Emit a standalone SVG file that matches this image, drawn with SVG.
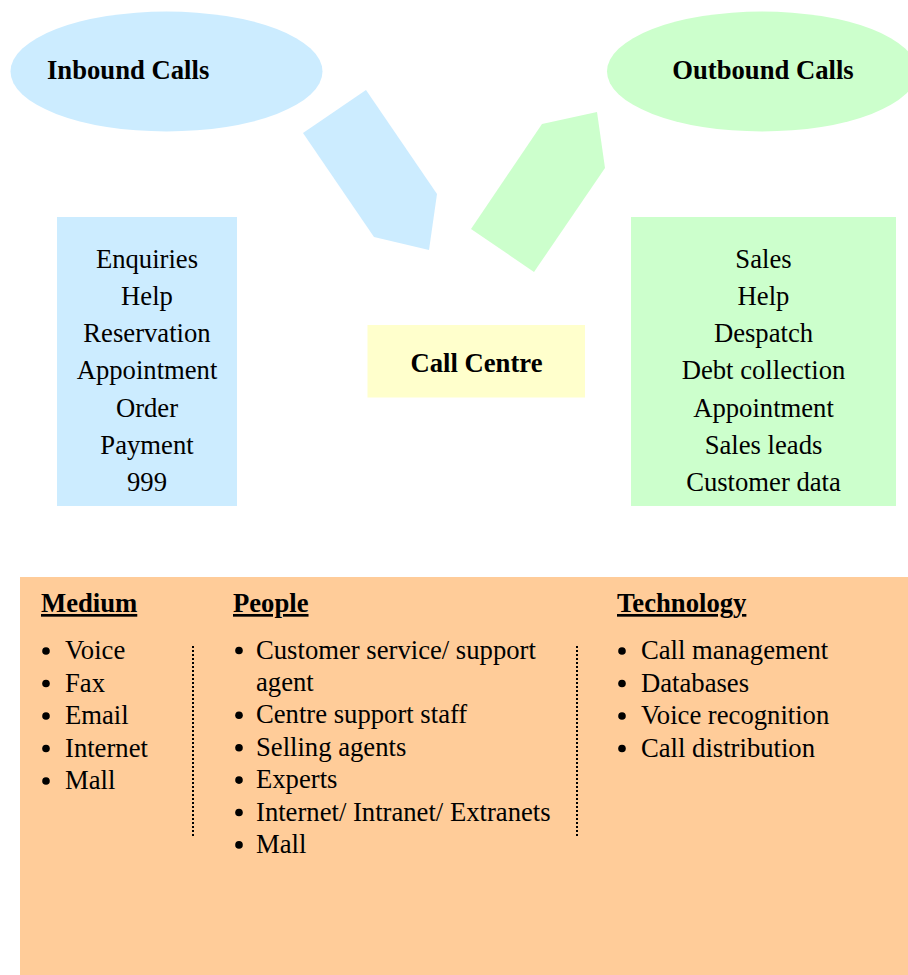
<svg xmlns="http://www.w3.org/2000/svg" width="908" height="975" viewBox="0 0 908 975">
<style>
text{font-family:"Liberation Serif","Times New Roman",serif;font-size:26.67px;fill:#000}
.b{font-weight:bold}
.u{text-decoration:underline}
.c{text-anchor:middle}
.dot{stroke:#000;stroke-width:2;stroke-dasharray:2 2;fill:none}
</style>
<rect width="908" height="975" fill="#fff"/>
<g id="inbound">
<ellipse cx="166.5" cy="71.5" rx="156" ry="60" fill="#CCECFF"/>
<text class="b" x="47" y="79">Inbound Calls</text>
</g>
<g id="outbound">
<ellipse cx="762" cy="71.5" rx="155" ry="60" fill="#CCFFCC"/>
<text class="b c" x="763" y="79">Outbound Calls</text>
</g>
<g id="connectors">
<polygon points="303,133 366,90 437,194 429,250 374,237" fill="#CCECFF"/>
<polygon points="471,229 542,124 597,112 605,168 534,272" fill="#CCFFCC"/>
</g>
<g id="inbound-list">
<rect x="57" y="217" width="180" height="289" fill="#CCECFF"/>
<text class="c" x="147" y="268">Enquiries</text>
<text class="c" x="147" y="305">Help</text>
<text class="c" x="147" y="342">Reservation</text>
<text class="c" x="147" y="379">Appointment</text>
<text class="c" x="147" y="416.5">Order</text>
<text class="c" x="147" y="453.5">Payment</text>
<text class="c" x="147" y="490.5">999</text>
</g>
<g id="outbound-list">
<rect x="631" y="217" width="265" height="289" fill="#CCFFCC"/>
<text class="c" x="763.5" y="268">Sales</text>
<text class="c" x="763.5" y="305">Help</text>
<text class="c" x="763.5" y="342">Despatch</text>
<text class="c" x="763.5" y="379">Debt collection</text>
<text class="c" x="763.5" y="416.5">Appointment</text>
<text class="c" x="763.5" y="453.5">Sales leads</text>
<text class="c" x="763.5" y="490.5">Customer data</text>
</g>
<g id="call-centre">
<rect x="367.5" y="325" width="217.5" height="72.5" fill="#FFFFCC"/>
<text class="b c" x="476.5" y="371.5">Call Centre</text>
</g>
<g id="resources">
<rect x="20" y="577" width="888" height="398" fill="#FFCC99"/>
<text class="b u" x="41" y="612">Medium</text>
<text class="b u" x="233" y="612">People</text>
<text class="b u" x="617" y="612">Technology</text>
<line class="dot" x1="193" y1="646" x2="193" y2="836"/>
<line class="dot" x1="577" y1="646" x2="577" y2="836"/>
<g fill="#000">
<circle cx="46" cy="651" r="3.8"/>
<circle cx="46" cy="683.5" r="3.8"/>
<circle cx="46" cy="716" r="3.8"/>
<circle cx="46" cy="748.5" r="3.8"/>
<circle cx="46" cy="781" r="3.8"/>
<circle cx="239" cy="650.5" r="3.8"/>
<circle cx="239" cy="715.3" r="3.8"/>
<circle cx="239" cy="747.7" r="3.8"/>
<circle cx="239" cy="780.1" r="3.8"/>
<circle cx="239" cy="812.5" r="3.8"/>
<circle cx="239" cy="844.9" r="3.8"/>
<circle cx="622" cy="651" r="3.8"/>
<circle cx="622" cy="683.5" r="3.8"/>
<circle cx="622" cy="716" r="3.8"/>
<circle cx="622" cy="748.5" r="3.8"/>
</g>
<text x="65" y="659">Voice</text>
<text x="65" y="691.5">Fax</text>
<text x="65" y="724">Email</text>
<text x="65" y="756.5">Internet</text>
<text x="65" y="789">Mall</text>
<text x="256" y="658.5">Customer service/ support</text>
<text x="256" y="690.9">agent</text>
<text x="256" y="723.3">Centre support staff</text>
<text x="256" y="755.7">Selling agents</text>
<text x="256" y="788.1">Experts</text>
<text x="256" y="820.5">Internet/ Intranet/ Extranets</text>
<text x="256" y="852.9">Mall</text>
<text x="641" y="659">Call management</text>
<text x="641" y="691.5">Databases</text>
<text x="641" y="724">Voice recognition</text>
<text x="641" y="756.5">Call distribution</text>
</g>
</svg>
